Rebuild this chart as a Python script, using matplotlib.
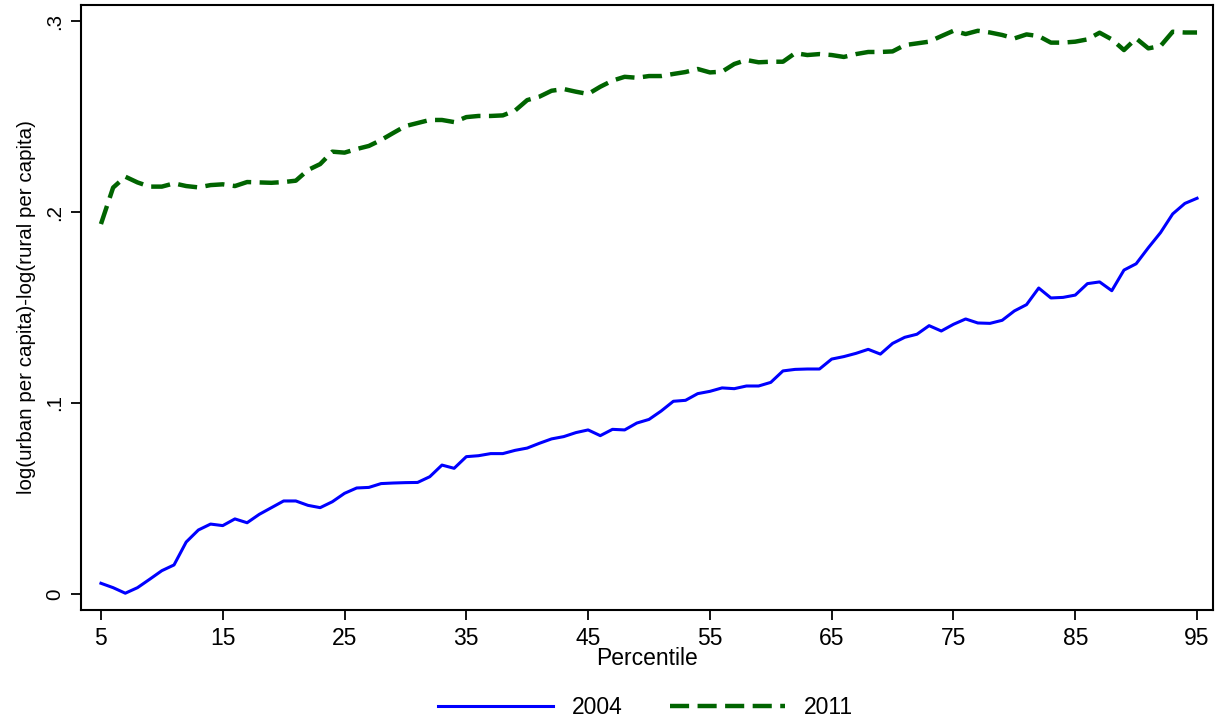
import matplotlib
matplotlib.use("Agg")
import matplotlib.pyplot as plt
import numpy as np

plt.rcParams['font.family'] = ['Liberation Sans', 'DejaVu Sans']

percentile = list(range(5, 96))

gap_2004 = [0.0056, 0.0033, 0.0004, 0.0033, 0.0077, 0.0122, 0.0152, 0.0272, 0.0335, 0.0366,
            0.0358, 0.0393, 0.0373, 0.0417, 0.0452, 0.0487, 0.0487, 0.0464, 0.0452, 0.0483,
            0.0527, 0.0555, 0.0558, 0.0578, 0.0581, 0.0583, 0.0584, 0.0614, 0.0675, 0.0658,
            0.0719, 0.0724, 0.0735, 0.0735, 0.0752, 0.0764, 0.0789, 0.0812, 0.0824, 0.0845,
            0.0859, 0.0829, 0.0862, 0.0859, 0.0895, 0.0914, 0.0958, 0.1009, 0.1014, 0.1049,
            0.1061, 0.1079, 0.1075, 0.1089, 0.1089, 0.1108, 0.1168, 0.1176, 0.1178, 0.1178,
            0.1230, 0.1243, 0.1260, 0.1281, 0.1256, 0.1312, 0.1344, 0.1360, 0.1405, 0.1377,
            0.1412, 0.1440, 0.1419, 0.1417, 0.1433, 0.1482, 0.1515, 0.1602, 0.1550, 0.1553,
            0.1565, 0.1625, 0.1634, 0.1588, 0.1696, 0.1729, 0.1813, 0.1892, 0.1990, 0.2045,
            0.2072]

gap_2011 = [0.1937, 0.2128, 0.2185, 0.2155, 0.2133, 0.2133, 0.2150, 0.2136, 0.2129, 0.2141,
            0.2145, 0.2136, 0.2157, 0.2155, 0.2153, 0.2157, 0.2164, 0.2220, 0.2251, 0.2316,
            0.2311, 0.2330, 0.2346, 0.2377, 0.2414, 0.2450, 0.2466, 0.2482, 0.2482, 0.2471,
            0.2497, 0.2503, 0.2503, 0.2506, 0.2531, 0.2586, 0.2604, 0.2635, 0.2644, 0.2630,
            0.2618, 0.2656, 0.2688, 0.2708, 0.2703, 0.2712, 0.2712, 0.2723, 0.2733, 0.2749,
            0.2731, 0.2735, 0.2775, 0.2796, 0.2784, 0.2787, 0.2787, 0.2832, 0.2822, 0.2827,
            0.2822, 0.2812, 0.2827, 0.2838, 0.2838, 0.2841, 0.2874, 0.2883, 0.2892, 0.2921,
            0.2949, 0.2932, 0.2949, 0.2940, 0.2927, 0.2909, 0.2930, 0.2921, 0.2887, 0.2887,
            0.2892, 0.2904, 0.2939, 0.2904, 0.2848, 0.2909, 0.2857, 0.2869, 0.2944, 0.2940,
            0.2940]

series_labels = ['2004', '2011']
x_ticks = list(range(5, 96, 10))
y_ticks = [0, 0.1, 0.2, 0.3]
y_tick_labels = ['0', '.1', '.2', '.3']

FS_H = 16.5   # horizontal text
FS_V = 14.8   # vertical text

fig = plt.figure(figsize=(12.25, 7.25), dpi=100)
ax = fig.add_axes([0.0661, 0.1586, 0.9241, 0.8345])

ax.plot(percentile, gap_2004, color='#0000ff', linewidth=2.2, label=series_labels[0])
ax.plot(percentile, gap_2011, color='#006400', linewidth=3.2, linestyle=(0, (4.3, 1.9)),
        dash_capstyle='butt', label=series_labels[1])

ax.set_xlim(3.36, 96.31)
ax.set_ylim(-0.0084, 0.3084)
ax.set_xticks(x_ticks)
ax.set_xticklabels([str(t) for t in x_ticks], fontsize=FS_H)
ax.set_yticks(y_ticks)
ax.set_yticklabels(y_tick_labels, fontsize=FS_V, rotation=90, va='center')
ax.tick_params(axis='both', direction='out', length=7, width=1.3, colors='black', pad=5)
for sp in ax.spines.values():
    sp.set_linewidth(1.5)
    sp.set_color('black')

ax.set_xlabel('Percentile', fontsize=FS_H, labelpad=-2)
ax.set_ylabel('log(urban per capita)-log(rural per capita)', fontsize=FS_V, labelpad=7)

fig.legend(loc='lower center', bbox_to_anchor=(0.527, -0.02), ncol=2, frameon=False,
           fontsize=FS_H, handlelength=5.0, columnspacing=2.1, handletextpad=0.83)

fig.savefig('out.png', dpi=100, facecolor='white')
